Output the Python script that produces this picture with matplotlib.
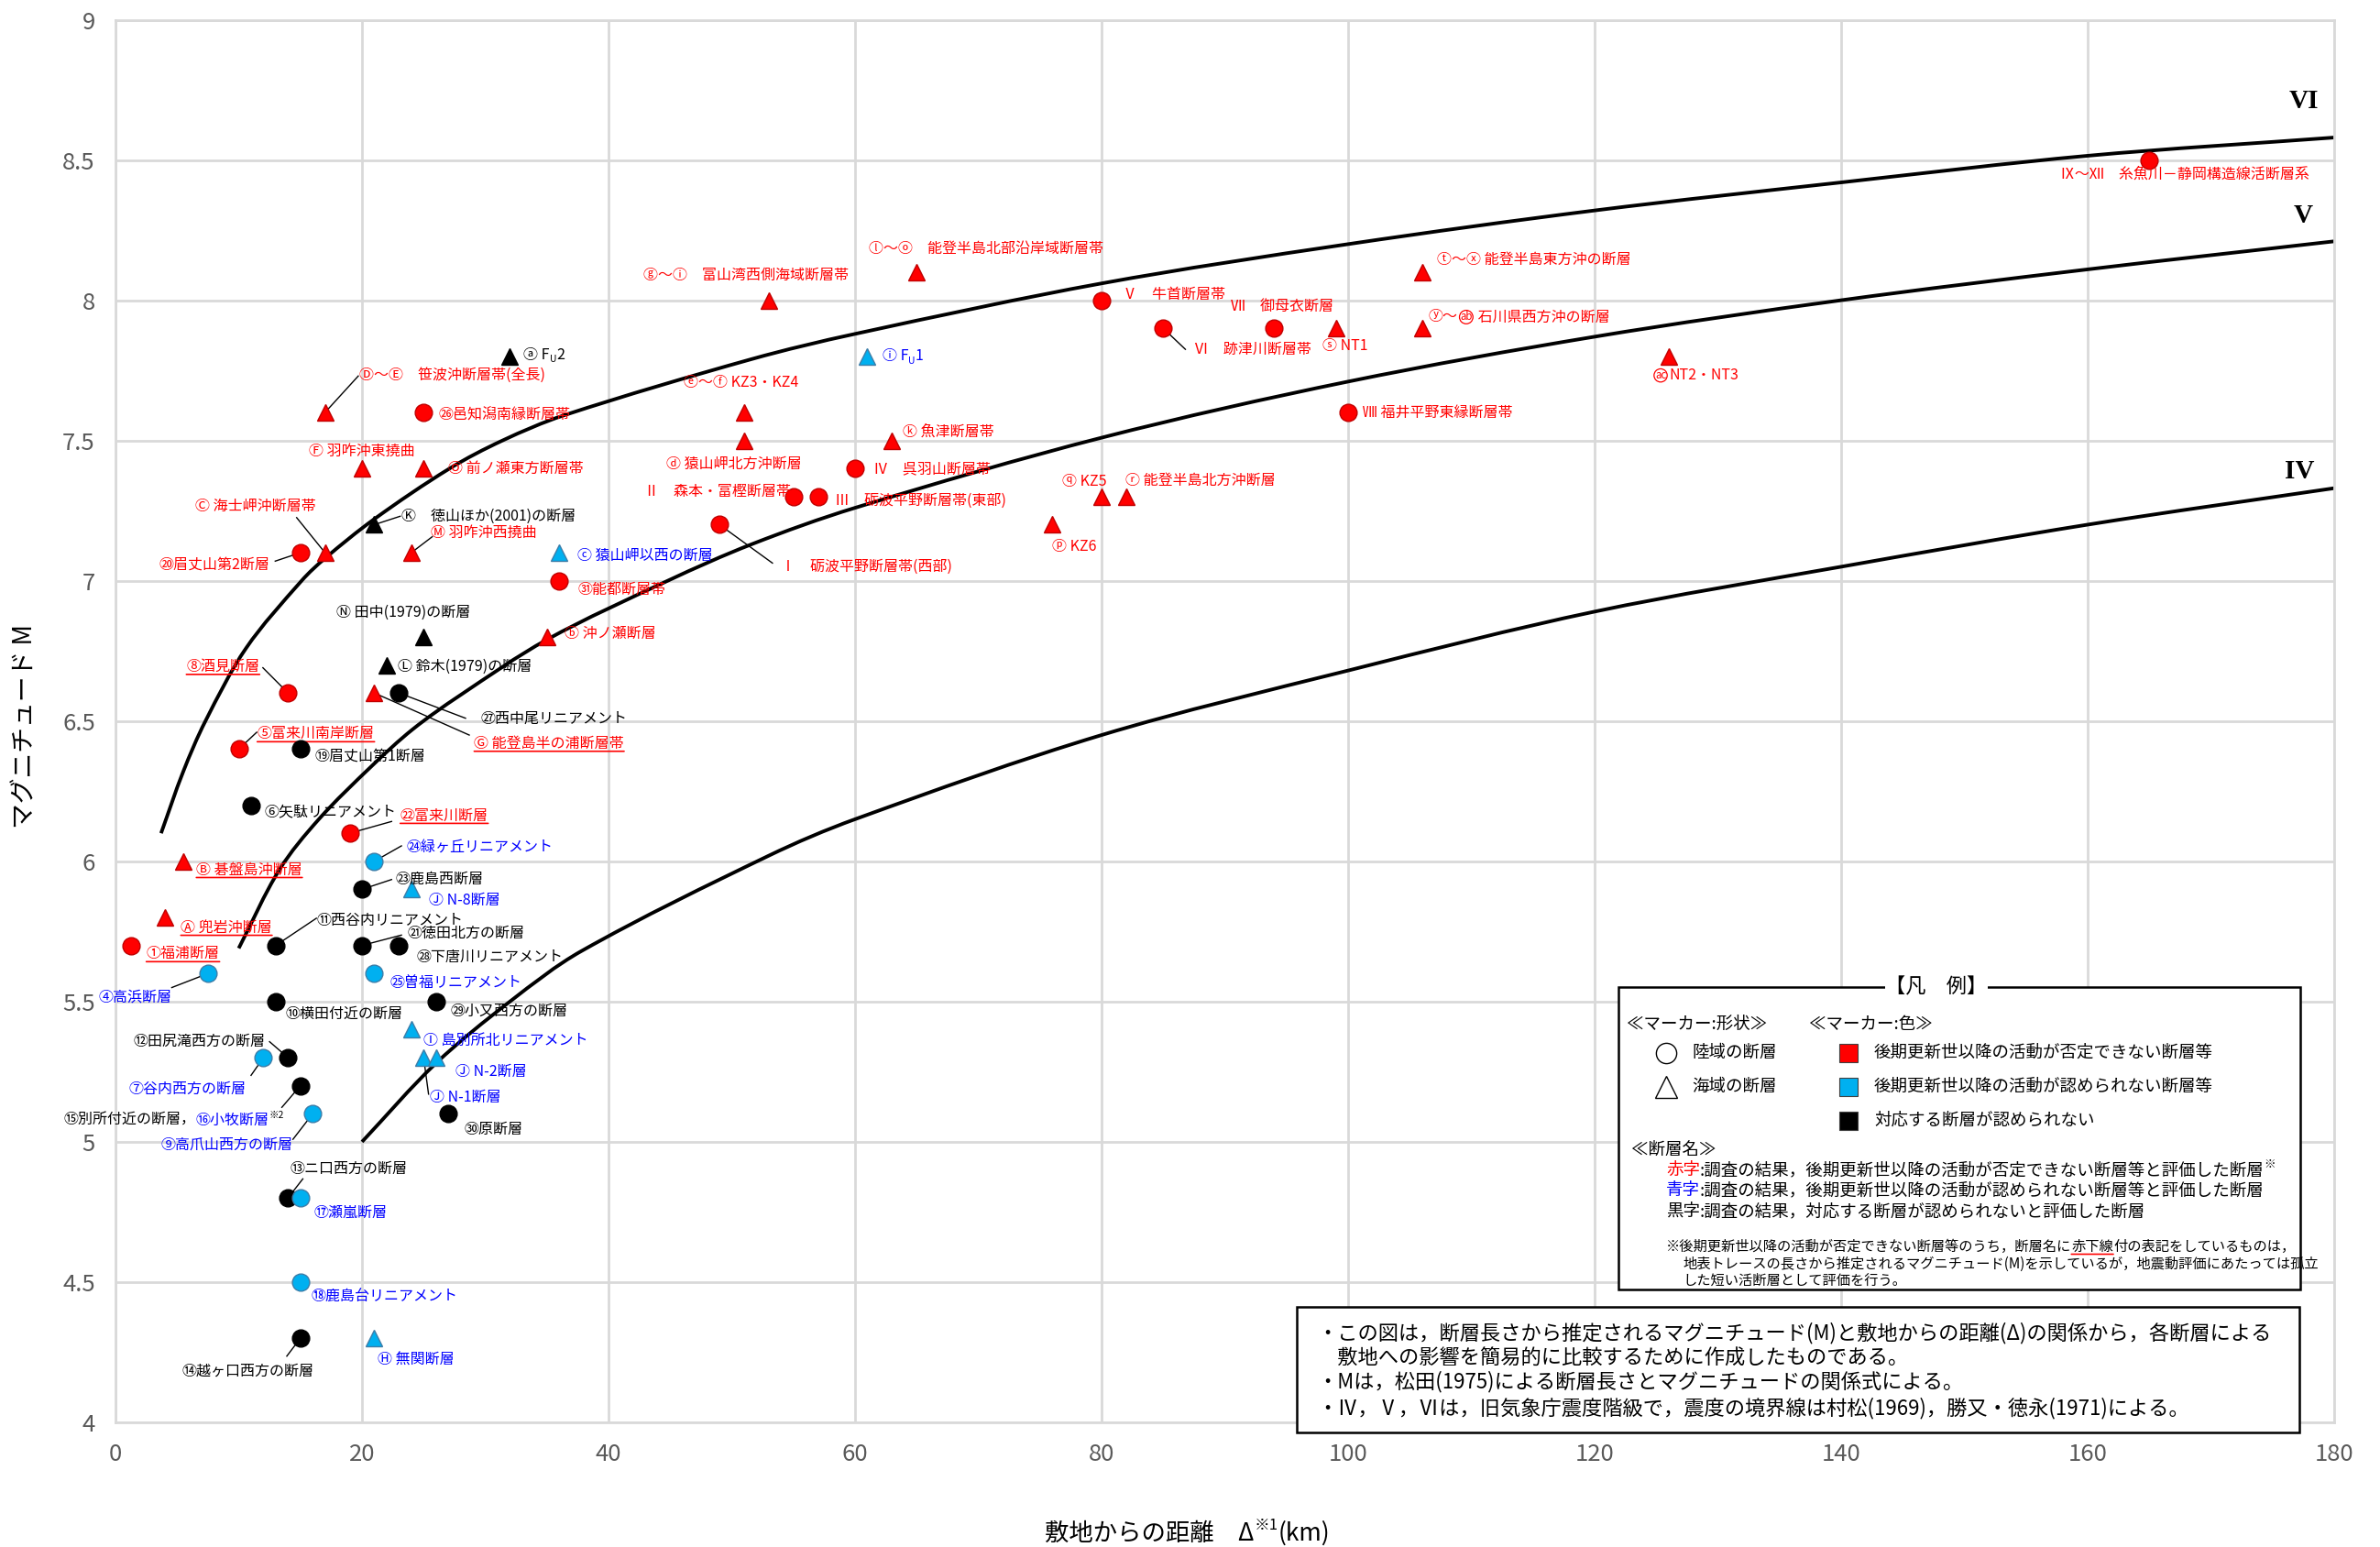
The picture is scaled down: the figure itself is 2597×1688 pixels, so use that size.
import re
import matplotlib
matplotlib.use('Agg')
import matplotlib.pyplot as plt
from matplotlib.patches import Rectangle, PathPatch
from matplotlib.path import Path

plt.rcParams['font.family'] = ['Noto Sans CJK JP', 'DejaVu Sans']

W, H = 2597, 1688

# intensity boundary curves (old JMA scale IV / V / VI)
vi_dist = [3.7, 5.5, 7.3, 10.6, 15.1, 17, 21, 27.1, 31.4, 36.4, 51.6, 60, 80, 100, 120, 140, 160, 180]
vi_mag = [6.10, 6.32, 6.50, 6.76, 7.00, 7.08, 7.22, 7.40, 7.50, 7.59, 7.79, 7.88, 8.06, 8.20, 8.32, 8.42, 8.515, 8.58]
v_dist = [10, 13.3, 16.5, 20.8, 24.1, 27.9, 35, 44.8, 51.6, 60, 80, 100, 120, 140, 160, 180]
v_mag = [5.69, 5.97, 6.15, 6.34, 6.47, 6.59, 6.79, 7.00, 7.13, 7.26, 7.51, 7.71, 7.87, 8.00, 8.11, 8.21]
iv_dist = [20, 26, 32, 37.8, 53, 60, 80, 100, 120, 140, 160, 180]
iv_mag = [5.00, 5.28, 5.50, 5.68, 6.02, 6.15, 6.45, 6.68, 6.89, 7.05, 7.20, 7.33]

# faults: distance from site (km), magnitude
fault_dist = [1.3, 4, 5.5, 7.5, 10, 11, 12, 14, 16, 13, 13, 14, 14, 15, 15, 15, 15, 15, 15, 20,
              19, 20, 21, 21, 25, 23, 23, 26, 27, 36,
              17, 17, 20, 21, 21, 24, 25, 26, 24, 21, 22, 24, 25, 25,
              32, 35, 36, 51, 51, 53, 61, 63, 65, 76, 80, 82, 99, 106, 106, 126,
              49, 55, 57, 60, 80, 85, 94, 100, 165]
fault_mag = [5.7, 5.8, 6.0, 5.6, 6.4, 6.2, 5.3, 6.6, 5.1, 5.5, 5.7, 5.3, 4.8, 4.3, 5.2, 4.8, 4.5, 6.4, 7.1, 5.7,
             6.1, 5.9, 6.0, 5.6, 7.6, 6.6, 5.7, 5.5, 5.1, 7.0,
             7.1, 7.6, 7.4, 6.6, 4.3, 5.4, 5.3, 5.3, 5.9, 7.2, 6.7, 7.1, 6.8, 7.4,
             7.8, 6.8, 7.1, 7.5, 7.6, 8.0, 7.8, 7.5, 8.1, 7.2, 7.3, 7.3, 7.9, 8.1, 7.9, 7.8,
             7.2, 7.3, 7.3, 7.4, 8.0, 7.9, 7.9, 7.6, 8.5]
# o = land fault, ^ = offshore fault
fault_shape = list('o^^' + 'ooooooooooooooooooooooooooo'
                   + '^^^^^^^^^^^^^^' + '^^^^^^^^^^^^^^^^' + 'ooooooooo')
# r = cannot deny late-Pleistocene activity, b = no activity, k = no matching fault
fault_class = list('rrrbrkbrbkkkkkkbbkrkrkbbrkkkkr' + 'rrrrbbbbbkkrkr'
                   + 'krbrrrbrrrrrrrrr' + 'rrrrrrrrr')
fault_names = [
    '①福浦断層', 'Ⓐ 兜岩沖断層', 'Ⓑ 碁盤島沖断層', '④高浜断層', '⑤富来川南岸断層',
    '⑥矢駄リニアメント', '⑦谷内西方の断層', '⑧酒見断層', '⑨高爪山西方の断層', '⑩横田付近の断層',
    '⑪西谷内リニアメント', '⑫田尻滝西方の断層', '⑬ニ口西方の断層', '⑭越ヶ口西方の断層',
    '⑮別所付近の断層，{b⑯小牧断層}{^※2}', '⑰瀬嵐断層', '⑱鹿島台リニアメント', '⑲眉丈山第1断層',
    '⑳眉丈山第2断層', '㉑徳田北方の断層', '㉒富来川断層', '㉓鹿島西断層', '㉔緑ヶ丘リニアメント',
    '㉕曽福リニアメント', '㉖邑知潟南縁断層帯', '㉗西中尾リニアメント', '㉘下唐川リニアメント',
    '㉙小又西方の断層', '㉚原断層', '㉛能都断層帯',
    'Ⓒ 海士岬沖断層帯', 'Ⓓ～Ⓔ　笹波沖断層帯(全長)', 'Ⓕ 羽咋沖東撓曲', 'Ⓖ 能登島半の浦断層帯',
    'Ⓗ 無関断層', 'Ⓘ 島別所北リニアメント', 'Ⓙ N-1断層', 'Ⓙ N-2断層', 'Ⓙ N-8断層',
    'Ⓚ　徳山ほか(2001)の断層', 'Ⓛ 鈴木(1979)の断層', 'Ⓜ 羽咋沖西撓曲', 'Ⓝ 田中(1979)の断層',
    'Ⓞ 前ノ瀬東方断層帯',
    'ⓐ F{_U}2', 'ⓑ 沖ノ瀬断層', 'ⓒ 猿山岬以西の断層', 'ⓓ 猿山岬北方沖断層', 'ⓔ～ⓕ KZ3・KZ4',
    'ⓖ～ⓘ　富山湾西側海域断層帯', 'ⓘ F{_U}1', 'ⓚ 魚津断層帯', 'ⓛ～ⓞ　能登半島北部沿岸域断層帯',
    'ⓟ KZ6', 'ⓠ KZ5', 'ⓡ 能登半島北方沖断層', 'ⓢ NT1', 'ⓣ～ⓧ 能登半島東方沖の断層',
    'ⓨ～{oab} 石川県西方沖の断層', '{oac}NT2・NT3',
    'Ⅰ　砺波平野断層帯(西部)', 'Ⅱ　森本・富樫断層帯', 'Ⅲ　砺波平野断層帯(東部)', 'Ⅳ　呉羽山断層帯',
    'Ⅴ　牛首断層帯', 'Ⅵ　跡津川断層帯', 'Ⅶ　御母衣断層', 'Ⅷ 福井平野東縁断層帯',
    'Ⅸ～Ⅻ　糸魚川－静岡構造線活断層系',
]
underlined = {0, 1, 2, 4, 7, 20, 33}

# label placement (left edge, centre) in data units
label_xy = [
    (2.5, 5.67), (5.3, 5.764), (6.56, 5.97), (-1.4, 5.515), (11.5, 6.454),
    (12.1, 6.177), (1.1, 5.188), (5.75, 6.694), (3.7, 4.99), (13.8, 5.457),
    (16.3, 5.79), (1.42, 5.357), (14.2, 4.903), (5.4, 4.182), (-4.2, 5.077),
    (16.1, 4.748), (15.9, 4.449), (16.2, 6.376), (3.55, 7.056), (23.7, 5.742),
    (23.1, 6.163), (22.7, 5.935), (23.6, 6.047), (22.3, 5.568), (26.2, 7.59),
    (29.6, 6.509), (24.4, 5.66), (27.2, 5.465), (28.3, 5.043), (37.5, 6.97),
    (6.5, 7.266), (19.8, 7.734), (15.7, 7.46), (29.1, 6.42), (21.3, 4.222),
    (25.0, 5.362), (25.5, 5.16), (27.6, 5.25), (25.4, 5.862), (23.2, 7.23),
    (22.9, 6.694), (25.6, 7.17), (17.9, 6.888), (27.0, 7.40),
    (33.1, 7.805), (36.4, 6.81), (37.5, 7.09), (44.65, 7.416), (46.1, 7.705),
    (42.8, 8.09), (62.2, 7.80), (63.9, 7.53), (61.1, 8.184), (76.0, 7.12),
    (76.8, 7.353), (81.9, 7.358), (97.9, 7.836), (107.2, 8.144), (106.5, 7.94),
    (124.9, 7.732),
    (53.95, 7.05), (42.9, 7.317), (58.4, 7.284), (61.5, 7.396), (81.7, 8.019),
    (87.5, 7.825), (90.5, 7.978), (101.2, 7.60), (157.8, 8.45),
]
# leader line ends (label side)
leader_end = {31: (19.7, 7.73), 30: (14.7, 7.225), 18: (12.96, 7.07), 39: (23.1, 7.23),
              41: (25.7, 7.157), 7: (11.96, 6.69), 25: (28.4, 6.51), 33: (28.7, 6.45),
              4: (11.46, 6.46), 20: (22.4, 6.142), 22: (23.2, 6.055), 21: (22.4, 5.935),
              10: (16.3, 5.797), 19: (23.2, 5.737), 3: (4.57, 5.55), 11: (12.5, 5.357),
              6: (11.0, 5.237), 36: (25.4, 5.17), 14: (13.5, 5.123), 8: (14.4, 5.009),
              12: (15.2, 4.868), 13: (13.9, 4.236), 60: (53.3, 7.063), 65: (86.8, 7.825)}

RED, BLUE = '#FF0000', '#0000FF'
text_color = {'r': RED, 'b': BLUE, 'k': 'black'}
fill = {'r': '#FF0000', 'b': '#00B0F0', 'k': '#000000'}
edge = {'r': '#C00000', 'b': '#3C7DA8', 'k': '#000000'}
LABEL_SIZE = 11.5


def smooth_path(axes, xs, ys):
    # smoothed line through the read points (chord-length Catmull-Rom as Bezier)
    pts = list(zip(xs, ys))
    disp = axes.transData.transform(pts)
    t = [0.0]
    for a, b in zip(disp[:-1], disp[1:]):
        t.append(t[-1] + ((b[0] - a[0]) ** 2 + (b[1] - a[1]) ** 2) ** 0.5)
    n = len(pts)
    tang = []
    for i in range(n):
        lo, hi = max(i - 1, 0), min(i + 1, n - 1)
        dt = t[hi] - t[lo]
        tang.append(((pts[hi][0] - pts[lo][0]) / dt, (pts[hi][1] - pts[lo][1]) / dt))
    verts, codes = [pts[0]], [Path.MOVETO]
    for i in range(n - 1):
        h = (t[i + 1] - t[i]) / 3
        c1 = (pts[i][0] + tang[i][0] * h, pts[i][1] + tang[i][1] * h)
        c2 = (pts[i + 1][0] - tang[i + 1][0] * h, pts[i + 1][1] - tang[i + 1][1] * h)
        verts += [c1, c2, pts[i + 1]]
        codes += [Path.CURVE4] * 3
    return Path(verts, codes)


def follow(axes, prev, s, dx=0, dy=0, **kw):
    return axes.annotate(s, xy=(1, 0.5), xycoords=prev, xytext=(dx, dy),
                         textcoords='offset points', ha='left', va='center', **kw)


def underline(axes, t, color):
    axes.annotate('', xy=(1, 0), xycoords=t, xytext=(0, 0), textcoords=t,
                  arrowprops=dict(arrowstyle='-', color=color, lw=1.2, shrinkA=0, shrinkB=0))


def draw_label(axes, x, y, name, color, size, ul=False):
    prev, off, prev_gap = None, 0.0, 0
    for k, seg in enumerate(re.split(r'\{(.*?)\}', name)):
        if not seg:
            continue
        kind, s = ('n', seg) if k % 2 == 0 else (seg[0], seg[1:])
        kw = dict(color=color, fontsize=size, zorder=6)
        new_off, gap = 0.0, 0
        if kind == '_':
            kw['fontsize'] = size * 0.65
            new_off = -0.3 * size
        elif kind == '^':
            kw['fontsize'] = size * 0.65
            new_off = 0.35 * size
        elif kind == 'b':
            kw['color'] = BLUE
        elif kind == 'o':
            kw['fontsize'] = size * 0.72
            kw['bbox'] = dict(boxstyle='circle,pad=0.06', fc='none', ec=color, lw=0.9)
            gap = 2
        if prev is None:
            prev = axes.text(x, y, s, ha='left', va='center', **kw)
            first = prev
        else:
            prev = follow(axes, prev, s, dx=gap + prev_gap, dy=new_off - off, **kw)
        off, prev_gap = new_off, gap
    if ul:
        underline(axes, first, color)


fig = plt.figure(figsize=(W / 100, H / 100), dpi=100)
ax = fig.add_axes([126 / W, 1 - 1552 / H, (2547 - 126) / W, (1552 - 21.5) / H])
ax.set_xlim(0, 180)
ax.set_ylim(4, 9)
ax.set_xticks(range(0, 181, 20))
yt = [4 + 0.5 * i for i in range(11)]
ax.set_yticks(yt)
ax.set_yticklabels(['%g' % v for v in yt])
ax.set_axisbelow(True)
ax.grid(color='#D9D9D9', lw=2)
ax.tick_params(length=0, labelsize=18.5, labelcolor='#595959', pad=16)
for sp in ax.spines.values():
    sp.set_color('#D9D9D9')
    sp.set_linewidth(2)

for d, m in [(vi_dist, vi_mag), (v_dist, v_mag), (iv_dist, iv_mag)]:
    ax.add_patch(PathPatch(smooth_path(ax, d, m), fc='none', ec='black', lw=2.8, zorder=2))
for txt, x, y in [('VI', 177.5, 8.71), ('V', 177.5, 8.30), ('IV', 177.2, 7.39)]:
    ax.text(x, y, txt, fontfamily='Liberation Serif', fontweight='bold', fontsize=21,
            ha='center', va='center')

for i, (ex, ey) in leader_end.items():
    ax.plot([fault_dist[i], ex], [fault_mag[i], ey], color='black', lw=1, zorder=3)

for x, m, sh, c in zip(fault_dist, fault_mag, fault_shape, fault_class):
    ax.plot(x, m, marker=sh, ms=13.5, mfc=fill[c], mec=edge[c], mew=1, ls='none',
            zorder=4, clip_on=False)

for i, name in enumerate(fault_names):
    lx, ly = label_xy[i]
    draw_label(ax, lx, ly, name, text_color[fault_class[i]], LABEL_SIZE, i in underlined)

# overlay in pixel coordinates for the legend, note and axis titles
ov = fig.add_axes([0, 0, 1, 1], zorder=5)
ov.set_xlim(0, W)
ov.set_ylim(H, 0)
ov.axis('off')

ov.text(28, 792, 'マグニチュード M', rotation=90, ha='center', va='center', fontsize=20)
t = ov.text(1140, 1673, '敷地からの距離　Δ', ha='left', va='center', fontsize=19)
t = follow(ov, t, '※1', dy=6, fontsize=12)
follow(ov, t, '(km)', dy=-6, fontsize=19)

# legend box
LG = 13.3
ov.add_patch(Rectangle((1766, 1077), 744, 330, fc='white', ec='black', lw=1.8, zorder=1))
ov.text(2113, 1077, '【凡　例】', ha='center', va='center', fontsize=16, zorder=3,
        bbox=dict(fc='white', ec='none', pad=0.5))
ov.text(1775, 1118, '≪マーカー:形状≫', va='center', fontsize=LG, zorder=3)
ov.text(1974, 1118, '≪マーカー:色≫', va='center', fontsize=LG, zorder=3)
ov.plot(1818, 1149, 'o', ms=16, mfc='white', mec='black', mew=1, zorder=3)
ov.text(1846, 1149, '陸域の断層', va='center', fontsize=LG, zorder=3)
ov.plot(1818, 1186, '^', ms=17, mfc='white', mec='black', mew=1, zorder=3)
ov.text(1846, 1186, '海域の断層', va='center', fontsize=LG, zorder=3)
for y, c, s in [(1149, '#FF0000', '後期更新世以降の活動が否定できない断層等'),
                (1186, '#00B0F0', '後期更新世以降の活動が認められない断層等'),
                (1223, '#000000', '対応する断層が認められない')]:
    ov.plot(2017, y, 's', ms=14.5, mfc=c, mec='#404040', mew=0.8, zorder=3)
    ov.text(2045, y, s, va='center', fontsize=LG, zorder=3)
ov.text(1780, 1255, '≪断層名≫', va='center', fontsize=LG, zorder=3)
t = ov.text(1818, 1277, '赤字', color=RED, va='center', fontsize=LG, zorder=3)
t = follow(ov, t, ':調査の結果，後期更新世以降の活動が否定できない断層等と評価した断層',
           fontsize=LG, zorder=3)
follow(ov, t, '※', dy=5, fontsize=9, zorder=3)
t = ov.text(1818, 1299, '青字', color=BLUE, va='center', fontsize=LG, zorder=3)
follow(ov, t, ':調査の結果，後期更新世以降の活動が認められない断層等と評価した断層',
       fontsize=LG, zorder=3)
t = ov.text(1818, 1322, '黒字', va='center', fontsize=LG, zorder=3)
follow(ov, t, ':調査の結果，対応する断層が認められないと評価した断層', fontsize=LG, zorder=3)
FN = 11
t = ov.text(1818, 1360, '※後期更新世以降の活動が否定できない断層等のうち，断層名に',
            va='center', fontsize=FN, zorder=3)
t = follow(ov, t, '赤下線', fontsize=FN, zorder=3)
underline(ov, t, RED)
follow(ov, t, '付の表記をしているものは，', fontsize=FN, zorder=3)
ov.text(1836, 1379, '地表トレースの長さから推定されるマグニチュード(M)を示しているが，地震動評価にあたっては孤立',
        va='center', fontsize=FN, zorder=3)
ov.text(1836, 1397, 'した短い活断層として評価を行う。', va='center', fontsize=FN, zorder=3)

# note box
ov.add_patch(Rectangle((1415, 1426), 1094, 137, fc='white', ec='black', lw=1.8, zorder=1))
note_lines = [
    '・この図は，断層長さから推定されるマグニチュード(M)と敷地からの距離(Δ)の関係から，各断層による',
    '　敷地への影響を簡易的に比較するために作成したものである。',
    '・Mは，松田(1975)による断層長さとマグニチュードの関係式による。',
    '・Ⅳ，Ⅴ，Ⅵは，旧気象庁震度階級で，震度の境界線は村松(1969)，勝又・徳永(1971)による。',
]
for y, s in zip([1455, 1482, 1508, 1537], note_lines):
    ov.text(1437, y, s, va='center', fontsize=16, zorder=3)

fig.savefig('out.png', dpi=100)
